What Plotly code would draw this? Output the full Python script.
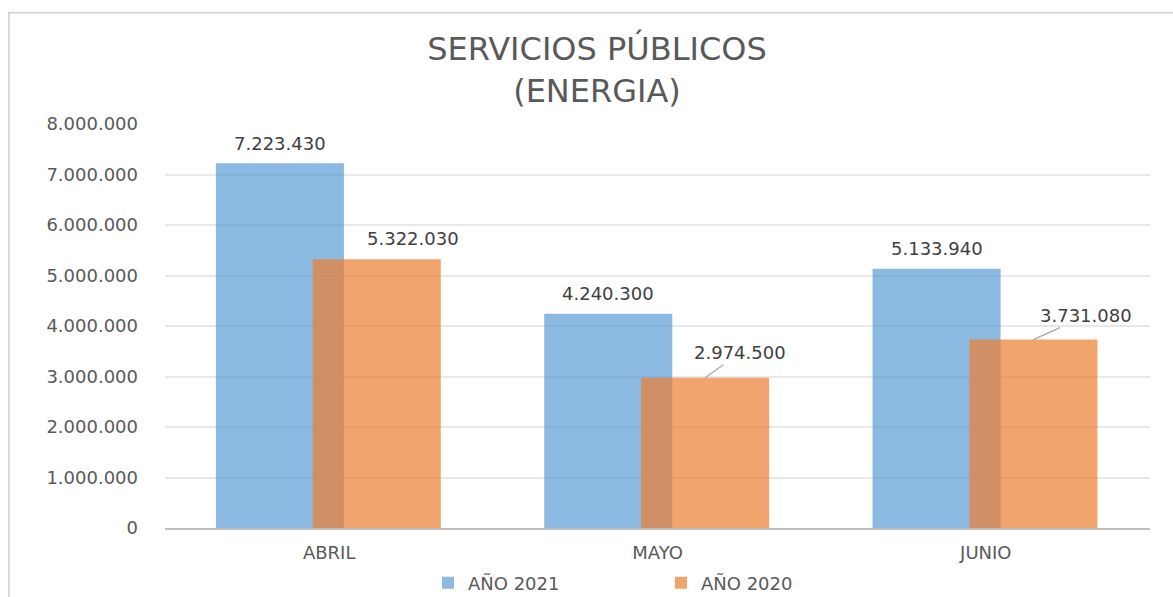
import plotly.graph_objects as go

# ---- data ----
categories = ["ABRIL", "MAYO", "JUNIO"]
series_names = ["AÑO 2021", "AÑO 2020"]
values_2021 = [7223430, 4240300, 5133940]
values_2020 = [5322030, 2974500, 3731080]
y_tick_values = [0, 1000000, 2000000, 3000000, 4000000, 5000000, 6000000, 7000000, 8000000]

# ---- styles ----
BLUE = "rgba(91,155,213,0.70)"
ORANGE = "rgba(237,125,49,0.70)"
TXT = "#595959"
LBL = "#404040"
FONT = "DejaVu Sans"
BAR_W = 0.39
OFF_2021 = -0.345
OFF_2020 = -0.05

def fmt(v):
    return f"{v:,}".replace(",", ".")

fig = go.Figure()
fig.add_trace(go.Bar(
    x=categories, y=values_2021, name=series_names[0],
    marker=dict(color=BLUE, line=dict(width=0)),
    width=BAR_W, offset=OFF_2021, hoverinfo="x+y",
))
fig.add_trace(go.Bar(
    x=categories, y=values_2020, name=series_names[1],
    marker=dict(color=ORANGE, line=dict(width=0)),
    width=BAR_W, offset=OFF_2020, hoverinfo="x+y",
))

annotations = []
# labels above the 2021 bars
for i, v in enumerate(values_2021):
    annotations.append(dict(
        x=i + OFF_2021 + BAR_W / 2, y=v, xref="x", yref="y",
        text=fmt(v), showarrow=False, yanchor="middle", yshift=20,
        font=dict(family=FONT, size=18, color=LBL),
    ))
# labels of the 2020 bars (placed up-right, with leader lines where far)
label_shift_2020 = [(36, -21, False), (35, -25, True), (53, -24, True)]
for i, v in enumerate(values_2020):
    dx, dy, arrow = label_shift_2020[i]
    cx = i + OFF_2020 + BAR_W / 2
    if arrow:
        annotations.append(dict(
            x=cx, y=v, xref="x", yref="y", text=fmt(v),
            showarrow=True, arrowhead=0, arrowwidth=1.3, arrowcolor="#A6A6A6",
            ax=dx, ay=dy, axref="pixel", ayref="pixel", standoff=0,
            font=dict(family=FONT, size=18, color=LBL),
        ))
    else:
        annotations.append(dict(
            x=cx, y=v, xref="x", yref="y", text=fmt(v),
            showarrow=False, xshift=dx, yshift=-dy, yanchor="middle",
            font=dict(family=FONT, size=18, color=LBL),
        ))

L, R, T, B = 165, 23, 123.5, 69
W, H = 1173, 597
pw, ph = W - L - R, H - T - B

fig.update_layout(
    width=W, height=H,
    margin=dict(l=L, r=R, t=T, b=B, pad=0, autoexpand=False),
    paper_bgcolor="white", plot_bgcolor="white",
    separators=",.",
    barmode="overlay",
    title=dict(
        text="SERVICIOS PÚBLICOS<br>(ENERGIA)",
        font=dict(family=FONT, size=32, color=TXT),
        x=597 / W, xref="container", xanchor="center",
        y=1 - 60 / H, yref="container", yanchor="top",
        automargin=False,
    ),
    xaxis=dict(
        type="category", range=[-0.5, 2.5],
        showline=True, linecolor="#BFBFBF", linewidth=2,
        showgrid=False, ticks="", ticklabelstandoff=7,
        tickfont=dict(family=FONT, size=18, color=TXT),
    ),
    yaxis=dict(
        range=[0, 8000000], tickvals=y_tick_values, tickformat=",d",
        showgrid=True, gridcolor="#E8E8E8", gridwidth=2,
        zeroline=False, showline=False, ticks="", ticklabelstandoff=26,
        tickfont=dict(family=FONT, size=18, color=TXT),
    ),
    legend=dict(
        orientation="h", xref="container", yref="container",
        x=661 / W, xanchor="center", y=1 - 583 / H, yanchor="middle",
        font=dict(family=FONT, size=18, color=TXT),
        entrywidth=188, traceorder="normal",
        bgcolor="rgba(0,0,0,0)",
    ),
    annotations=annotations,
    shapes=[dict(
        type="rect", xref="paper", yref="paper",
        x0=(9 - L) / pw, x1=(W + 20 - L) / pw,
        y0=-(B + 40) / ph, y1=(H - B - 12) / ph,
        line=dict(color="#D9D9D9", width=2), fillcolor="rgba(0,0,0,0)",
        layer="below",
    )],
    showlegend=True,
)

fig.write_html("out.html")
